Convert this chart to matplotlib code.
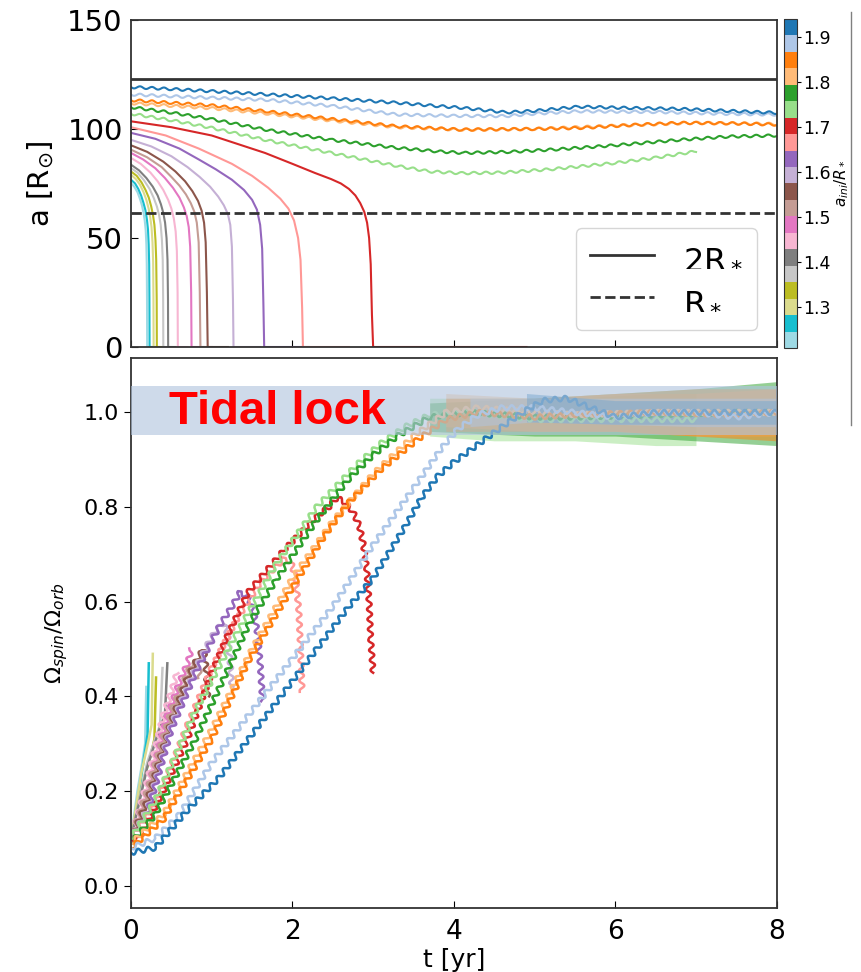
import matplotlib
matplotlib.use('Agg')
import matplotlib.pyplot as plt
from matplotlib.colors import Normalize
from matplotlib.cm import ScalarMappable
from matplotlib.lines import Line2D

#.............................................. initial separations (colour) ..............................................#
a_ini = [1.92, 1.88, 1.84, 1.81, 1.77, 1.73, 1.70, 1.66, 1.62, 1.59,
         1.55, 1.51, 1.48, 1.44, 1.40, 1.37, 1.33, 1.29, 1.26, 1.22]

R_star = 61.5
R_2star = 123.0

#.............................................. top panel: a [Rsun] vs t ..............................................#
ta0  = [0, 0.5, 1, 1.7, 2.5, 3.3, 3.8, 4.1, 4.65, 5.0, 5.55, 6.2, 6.8, 7.4, 8.0]
a0   = [119.2, 118.3, 117.3, 115.8, 114, 112, 110.5, 109.7, 107.6, 108.3, 110.2, 109.6, 109.2, 108.3, 107.4]
ta1  = [0, 0.5, 1, 1.7, 2.5, 3.3, 4.0, 4.65, 5.0, 5.55, 6.5, 7.3, 8.0]
a1   = [115.8, 115, 114.3, 113.3, 110.5, 106.6, 106, 105.9, 107, 108.1, 107.8, 107, 106.6]
ta2  = [0, 0.5, 1, 1.7, 2.5, 3.3, 4.1, 5.0, 5.6, 6.3, 6.8, 7.4, 8.0]
a2   = [113.2, 112, 110.8, 108, 104.5, 101.2, 99.7, 100, 100.5, 102, 102.8, 102.6, 102]
ta3  = [0, 0.5, 1, 1.7, 2.5, 3.3, 4.1, 5.0, 6.0, 7.0, 8.0]
a3   = [111.8, 110.6, 109.5, 107, 103.8, 100.8, 99.6, 100, 101.5, 102.8, 102.3]
ta4  = [0, 0.5, 1, 1.66, 2.48, 3.3, 3.8, 4.12, 4.7, 5.3, 6.0, 6.8, 7.4, 8.0]
a4   = [110, 107.5, 104.5, 99.7, 95, 91.3, 89.7, 89, 89.5, 90.7, 92.5, 95, 96.5, 97]
ta5  = [0, 0.5, 1, 1.66, 2.48, 3.3, 3.7, 4.1, 4.6, 5.2, 6.0, 6.5, 7.0]
a5   = [107, 104, 100.5, 95, 89, 83, 80.5, 79.7, 80, 81.5, 84.4, 86.8, 89.7]
ta6  = [0, 0.5, 1.0, 1.66, 2.0, 2.28, 2.48, 2.6, 2.7, 2.78, 2.84, 2.89, 2.925, 2.95, 2.97, 2.985, 3.0, 4.9]
a6   = [103.5, 100.8, 97, 89, 84, 79.8, 77, 75, 72.5, 69.5, 66, 62, 57, 50, 38, 15, 0, 0]
ta7  = [0, 0.43, 0.84, 1.25, 1.5, 1.7, 1.85, 1.95, 2.02, 2.07, 2.1, 2.12, 2.13, 2.7]
a7   = [100.8, 97, 91, 84, 78.5, 73, 68, 63.5, 58, 50, 40, 18, 0, 0]
ta8  = [0, 0.3, 0.6, 0.84, 1.05, 1.25, 1.4, 1.5, 1.56, 1.6, 1.625, 1.64, 1.65, 2.2]
a8   = [98.2, 95.5, 91, 86, 81.5, 76.7, 72, 67.5, 63, 56, 45, 20, 0, 0]
ta9  = [0, 0.25, 0.5, 0.7, 0.85, 0.98, 1.08, 1.15, 1.2, 1.23, 1.25, 1.263, 1.27, 1.6]
a9   = [95, 92, 87.5, 82.5, 78, 73.5, 69, 65, 61, 56, 46, 22, 0, 0]
ta10 = [0, 0.2, 0.4, 0.55, 0.67, 0.76, 0.83, 0.875, 0.905, 0.925, 0.94, 0.95, 1.2]
a10  = [92.5, 89.5, 85, 80.5, 76, 71.5, 67, 62.5, 57, 48, 25, 0, 0]
ta11 = [0, 0.2, 0.38, 0.5, 0.6, 0.68, 0.74, 0.785, 0.815, 0.838, 0.852, 0.86, 1.0]
a11  = [90.5, 87, 82.5, 78, 74, 70, 66, 62, 57, 48, 25, 0, 0]
ta12 = [0, 0.15, 0.3, 0.42, 0.52, 0.6, 0.655, 0.69, 0.715, 0.733, 0.745, 0.75, 0.9]
a12  = [89, 86, 82, 77.5, 73, 68.5, 64, 60, 55, 46, 25, 0, 0]
ta13 = [0, 0.12, 0.24, 0.33, 0.4, 0.46, 0.5, 0.53, 0.553, 0.568, 0.577, 0.58, 0.7]
a13  = [86.7, 84, 80, 76, 72, 67.5, 63.5, 59, 53, 44, 25, 0, 0]
ta14 = [0, 0.1, 0.19, 0.27, 0.33, 0.37, 0.4, 0.422, 0.44, 0.452, 0.458, 0.46, 0.55]
a14  = [83.6, 81, 77.5, 73.5, 69.5, 65.5, 61.5, 57, 50, 40, 22, 0, 0]
ta15 = [0, 0.08, 0.16, 0.23, 0.28, 0.32, 0.348, 0.368, 0.383, 0.393, 0.398, 0.4, 0.5]
a15  = [82, 80, 76.5, 72.5, 68.5, 64.5, 60.5, 56, 49, 40, 22, 0, 0]
ta16 = [0, 0.07, 0.13, 0.18, 0.22, 0.25, 0.272, 0.29, 0.303, 0.312, 0.318, 0.32, 0.4]
a16  = [80.5, 78.5, 75.5, 72, 68.5, 64.5, 60.5, 56, 49, 40, 22, 0, 0]
ta17 = [0, 0.06, 0.11, 0.155, 0.19, 0.218, 0.238, 0.254, 0.266, 0.274, 0.278, 0.28, 0.35]
a17  = [79, 77, 74.5, 71, 67.5, 63.5, 59.5, 55, 48, 39, 22, 0, 0]
ta18 = [0, 0.05, 0.09, 0.125, 0.155, 0.18, 0.197, 0.21, 0.219, 0.225, 0.228, 0.23, 0.3]
a18  = [76.7, 75, 72.5, 69.5, 66, 62.5, 58.5, 54, 47, 38, 22, 0, 0]
ta19 = [0, 0.04, 0.08, 0.11, 0.135, 0.155, 0.17, 0.182, 0.19, 0.195, 0.198, 0.2, 0.26]
a19  = [75.2, 73.5, 71, 68, 65, 61.5, 58, 53.5, 47, 38, 22, 0, 0]

#.............................................. bottom panel: Omega_spin/Omega_orb vs t ..............................................#
tw0  = [0, 0.3, 0.7, 1.1, 1.5, 1.9, 2.3, 2.7, 3.0, 3.4, 3.6, 3.8, 4.0, 4.2, 4.4, 4.6, 4.85, 5.1, 5.4, 5.7, 6.0, 6.5, 7.0, 7.5, 8.0]
w0   = [0.07, 0.08, 0.16, 0.23, 0.32, 0.41, 0.50, 0.59, 0.65, 0.76, 0.82, 0.865, 0.895, 0.92, 0.945, 0.97, 1.0, 1.025, 1.03, 1.01, 0.99, 1.0, 1.0, 1.0, 1.0]
tw1  = [0, 0.3, 0.6, 1.0, 1.5, 2.0, 2.5, 3.0, 3.5, 3.85, 4.05, 4.3, 4.6, 5.0, 5.5, 6.0, 6.5, 7.0, 7.5, 8.0]
w1   = [0.08, 0.1, 0.15, 0.26, 0.37, 0.48, 0.59, 0.72, 0.84, 0.925, 0.965, 0.995, 1.01, 1.01, 1.0, 0.99, 1.0, 1.0, 0.99, 1.0]
tw2  = [0, 0.4, 1.0, 1.47, 2.0, 2.4, 2.7, 3.1, 3.53, 3.9, 4.3, 5.0, 5.5, 6.5, 7.5, 8.0]
w2   = [0.08, 0.14, 0.31, 0.48, 0.63, 0.74, 0.81, 0.88, 0.94, 0.985, 1.0, 0.99, 0.995, 1.0, 0.995, 1.0]
tw3  = [0, 0.4, 1.0, 1.5, 2.0, 2.5, 3.0, 3.5, 3.9, 4.3, 5.0, 5.5, 6.5, 7.5, 8.0]
w3   = [0.09, 0.15, 0.33, 0.5, 0.65, 0.77, 0.87, 0.95, 1.0, 1.01, 1.0, 0.995, 1.0, 1.0, 1.0]
tw4  = [0, 0.3, 0.8, 1.47, 1.8, 2.29, 2.7, 3.0, 3.3, 3.7, 4.2, 5.0, 5.5, 6.5, 7.5, 8.0]
w4   = [0.09, 0.15, 0.31, 0.556, 0.647, 0.77, 0.86, 0.91, 0.95, 0.99, 1.0, 0.99, 0.99, 0.995, 1.0, 1.0]
tw5  = [0, 0.3, 0.8, 1.3, 1.8, 2.3, 2.8, 3.1, 3.4, 3.7, 4.2, 5.0, 5.5, 6.5, 7.0]
w5   = [0.1, 0.18, 0.37, 0.53, 0.68, 0.8, 0.89, 0.935, 0.97, 0.995, 1.0, 0.985, 0.985, 0.985, 0.985]
tw6  = [0, 0.1, 0.4, 0.7, 1.0, 1.2, 1.45, 1.7, 1.9, 2.1, 2.3, 2.45, 2.55, 2.65, 2.75, 2.83, 2.88, 2.92, 2.95, 2.97, 3.0]
w6   = [0.1, 0.1, 0.2, 0.31, 0.45, 0.53, 0.62, 0.67, 0.71, 0.745, 0.78, 0.8, 0.82, 0.81, 0.79, 0.76, 0.72, 0.67, 0.6, 0.52, 0.45]
tw7  = [0, 0.3, 0.7, 1.0, 1.3, 1.6, 1.8, 1.9, 1.98, 2.04, 2.08, 2.1, 2.12]
w7   = [0.1, 0.17, 0.34, 0.46, 0.56, 0.64, 0.675, 0.69, 0.685, 0.65, 0.58, 0.5, 0.41]
tw8  = [0, 0.2, 0.5, 0.8, 1.1, 1.25, 1.35, 1.45, 1.52, 1.57, 1.6, 1.63]
w8   = [0.1, 0.15, 0.33, 0.45, 0.55, 0.59, 0.62, 0.61, 0.58, 0.53, 0.47, 0.39]
tw9  = [0, 0.2, 0.5, 0.8, 0.95, 1.05, 1.15, 1.2, 1.23, 1.25]
w9   = [0.1, 0.16, 0.34, 0.46, 0.51, 0.54, 0.555, 0.53, 0.47, 0.42]
tw10 = [0, 0.2, 0.5, 0.7, 0.82, 0.9, 0.93, 0.95]
w10  = [0.1, 0.18, 0.35, 0.44, 0.48, 0.5, 0.46, 0.4]
tw11 = [0, 0.2, 0.5, 0.65, 0.75, 0.82, 0.86]
w11  = [0.1, 0.2, 0.37, 0.43, 0.47, 0.47, 0.44]
tw12 = [0, 0.2, 0.45, 0.6, 0.7, 0.75]
w12  = [0.1, 0.2, 0.36, 0.43, 0.47, 0.5]
tw13 = [0, 0.2, 0.4, 0.5, 0.57]
w13  = [0.1, 0.22, 0.36, 0.41, 0.45]
tw14 = [0, 0.2, 0.35, 0.42, 0.45]
w14  = [0.1, 0.25, 0.33, 0.36, 0.47]
tw15 = [0, 0.2, 0.32, 0.36, 0.39]
w15  = [0.1, 0.26, 0.32, 0.34, 0.46]
tw16 = [0, 0.15, 0.25, 0.29, 0.31]
w16  = [0.1, 0.22, 0.28, 0.31, 0.44]
tw17 = [0, 0.13, 0.22, 0.255, 0.27]
w17  = [0.1, 0.24, 0.31, 0.34, 0.49]
tw18 = [0, 0.1, 0.17, 0.205, 0.22]
w18  = [0.1, 0.2, 0.28, 0.32, 0.47]
tw19 = [0, 0.08, 0.14, 0.175, 0.19]
w19  = [0.1, 0.2, 0.26, 0.3, 0.42]

# spread of the fast spin oscillation once locked (lower / upper edge)
te0 = [4.9, 6.0, 7.0, 8.0]
lo0 = [0.98, 0.975, 0.975, 0.975]
hi0 = [1.04, 1.025, 1.025, 1.025]
te1 = [4.2, 5.0, 6.0, 7.0, 8.0]
lo1 = [0.97, 0.98, 0.975, 0.97, 0.97]
hi1 = [1.03, 1.03, 1.03, 1.03, 1.03]
te2 = [3.9, 5.0, 6.0, 7.0, 8.0]
lo2 = [0.96, 0.96, 0.96, 0.95, 0.94]
hi2 = [1.03, 1.03, 1.04, 1.05, 1.05]
te3 = [3.9, 5.0, 6.0, 7.0, 8.0]
lo3 = [0.97, 0.96, 0.96, 0.95, 0.95]
hi3 = [1.04, 1.03, 1.04, 1.04, 1.05]
te4 = [3.7, 5.0, 6.0, 7.0, 8.0]
lo4 = [0.96, 0.95, 0.95, 0.94, 0.93]
hi4 = [1.02, 1.03, 1.04, 1.05, 1.065]
te5 = [3.7, 4.5, 5.5, 6.5, 7.0]
lo5 = [0.95, 0.94, 0.94, 0.93, 0.93]
hi5 = [1.03, 1.03, 1.03, 1.04, 1.04]

top_t = [ta0, ta1, ta2, ta3, ta4, ta5, ta6, ta7, ta8, ta9, ta10, ta11, ta12, ta13, ta14, ta15, ta16, ta17, ta18, ta19]
top_a = [a0, a1, a2, a3, a4, a5, a6, a7, a8, a9, a10, a11, a12, a13, a14, a15, a16, a17, a18, a19]
bot_t = [tw0, tw1, tw2, tw3, tw4, tw5, tw6, tw7, tw8, tw9, tw10, tw11, tw12, tw13, tw14, tw15, tw16, tw17, tw18, tw19]
bot_w = [w0, w1, w2, w3, w4, w5, w6, w7, w8, w9, w10, w11, w12, w13, w14, w15, w16, w17, w18, w19]
env = [(te0, lo0, hi0), (te1, lo1, hi1), (te2, lo2, hi2), (te3, lo3, hi3), (te4, lo4, hi4), (te5, lo5, hi5)]

#-----------------------------------------------------------------------------------------------------------------------#
cmap = plt.get_cmap('tab20_r')
norm = Normalize(vmin=1.21, vmax=1.94)

fig = plt.figure(figsize=(8.62, 9.72), dpi=100)
ax = fig.add_axes([0.152, 0.643, 0.749, 0.3365])
bx = fig.add_axes([0.152, 0.0658, 0.749, 0.5659])
cax = fig.add_axes([0.9095, 0.642, 0.0151, 0.3385])

for i in range(19, -1, -1):
    ln, = ax.plot(top_t[i], top_a[i], color=cmap(norm(a_ini[i])), lw=1.5)
    if i < 6:
        ln.set_sketch_params(scale=1.2, length=12, randomness=1)   # orbital wobble

ax.axhline(R_2star, color='#333333', lw=2)
ax.axhline(R_star, color='#333333', lw=2, ls='--')
ax.set_xlim(0, 8)
ax.set_ylim(0, 150)
ax.set_yticks([0, 50, 100, 150])
ax.set_xticks([0, 2, 4, 6, 8])
ax.tick_params(axis='x', direction='in', labelbottom=False, length=5)
ax.tick_params(axis='y', direction='in', labelsize=21, length=5, pad=6)
ax.set_ylabel(r'a [R$_{\odot}$]', fontsize=21, labelpad=8)
handles = [Line2D([], [], color='#333333', lw=2), Line2D([], [], color='#333333', lw=2, ls='--')]
ax.legend(handles, ['2R$_*$', 'R$_*$'], loc='lower right', fontsize=23, handlelength=2.0,
          borderpad=0.45, labelspacing=0.35, handletextpad=0.9, borderaxespad=0,
          bbox_to_anchor=(0.97, 0.052))

for i in range(19, -1, -1):
    c = cmap(norm(a_ini[i]))
    if i < 6:
        te, lo, hi = env[i]
        bx.fill_between(te, lo, hi, color=c, alpha=0.5, lw=0)
    ln, = bx.plot(bot_t[i], bot_w[i], color=c, lw=1.8)
    if i < 14:
        ln.set_sketch_params(scale=2.5, length=10, randomness=1)

bx.axhspan(0.953, 1.055, color='#b0c4de', alpha=0.62, lw=0, zorder=5)
bx.text(0.47, 1.0, 'Tidal lock', color='red', fontsize=34, fontweight='bold',
        family=['Liberation Sans', 'DejaVu Sans'], ha='left', va='center', zorder=6)
bx.set_xlim(0, 8)
bx.set_ylim(-0.047, 1.115)
bx.set_xticks([0, 2, 4, 6, 8])
bx.set_yticks([0.0, 0.2, 0.4, 0.6, 0.8, 1.0])
bx.tick_params(axis='x', direction='in', labelsize=19, length=5, pad=8)
bx.tick_params(axis='y', direction='out', labelsize=16, length=5)
bx.set_xlabel('t [yr]', fontsize=18, labelpad=2)
bx.set_ylabel(r'$\Omega_{spin}/\Omega_{orb}$', fontsize=16, labelpad=10)

for a in (ax, bx):
    for s in a.spines.values():
        s.set_color('#333333')
        s.set_linewidth(1.3)

sm = ScalarMappable(norm=norm, cmap=cmap)
cb = fig.colorbar(sm, cax=cax, ticks=[1.3, 1.4, 1.5, 1.6, 1.7, 1.8, 1.9])
cb.ax.tick_params(labelsize=12.5, length=3, pad=1.5)
cb.set_label(r'$a_{ini}/R_*$', fontsize=11, labelpad=1)
cb.outline.set_edgecolor('#333333')

fig.add_artist(Line2D([0.987, 0.987], [0.563, 0.988], color='gray', lw=1, transform=fig.transFigure))

fig.savefig('out.png', dpi=100)
